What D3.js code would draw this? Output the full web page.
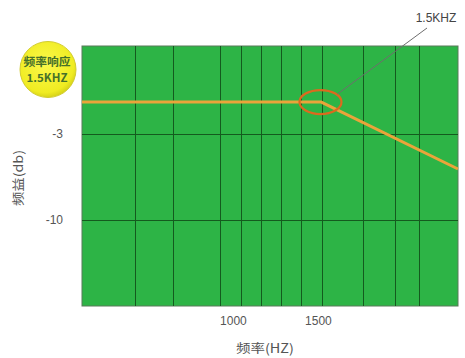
<!DOCTYPE html>
<html><head><meta charset="utf-8">
<script src="https://cdn.jsdelivr.net/npm/d3@7"></script>
<style>
html,body{margin:0;padding:0;background:#fff;}
svg{display:block;font-family:"Liberation Sans",Arial,sans-serif;}
</style></head>
<body><svg id="chart" width="465" height="358"></svg>
<script>
// ---- data ----
const freqDomain = [112, 2324];
const dbDomain = [-17, 4.16];
const xTickValues = [1000, 1500];
const xTickLabels = ["1000", "1500"];
const yTickValues = [-3, -10];
const yTickLabels = ["-3", "-10"];
const gridFreqs = [424, 647, 924, 1047, 1165, 1282, 1400, 1524, 1765, 1953, 2094];
const curveFreq = [112, 1520, 2324];
const curveDb = [-0.4, -0.4, -5.85];
const markerFreq = 1515;
const markerDb = -0.4;
const badgeLines = ["频率响应", "1.5KHZ"];
const markerLabel = "1.5KHZ";
const xTitle = "频率(HZ)";
const yTitle = "频益(db)";

// ---- layout ----
const svg = d3.select("#chart");
const L = 82, R = 458, T = 46, B = 306;
const x = d3.scaleLinear().domain(freqDomain).range([L, R]);
const y = d3.scaleLinear().domain(dbDomain).range([B, T]);

// plot background
svg.append("rect").attr("x", L).attr("y", T).attr("width", R - L).attr("height", B - T)
  .attr("fill", "#2db446").attr("stroke", "#5a7a5a").attr("stroke-width", 1);

// vertical grid
svg.append("g").selectAll("line").data(gridFreqs).join("line")
  .attr("x1", d => Math.round(x(d)) + 0.5).attr("x2", d => Math.round(x(d)) + 0.5)
  .attr("y1", T).attr("y2", B)
  .attr("stroke", "#145a1e").attr("stroke-width", 1);

// horizontal grid
svg.append("g").selectAll("line").data(yTickValues).join("line")
  .attr("x1", L).attr("x2", R)
  .attr("y1", d => Math.round(y(d)) + 0.5).attr("y2", d => Math.round(y(d)) + 0.5)
  .attr("stroke", "#145a1e").attr("stroke-width", 1);

// axes (labels only)
const xAxis = d3.axisBottom(x).tickValues(xTickValues)
  .tickFormat((d, i) => xTickLabels[i]).tickSize(0).tickPadding(10);
const gx = svg.append("g").attr("transform", `translate(0,${B})`).call(xAxis);
gx.select(".domain").remove();
gx.selectAll("text").attr("font-size", 12).attr("fill", "#555")
  .attr("font-family", "Liberation Sans, Arial, sans-serif");

const yAxis = d3.axisLeft(y).tickValues(yTickValues)
  .tickFormat((d, i) => yTickLabels[i]).tickSize(0).tickPadding(19);
const gy = svg.append("g").attr("transform", `translate(${L},0)`).call(yAxis);
gy.select(".domain").remove();
gy.selectAll("text").attr("font-size", 12).attr("fill", "#555")
  .attr("font-family", "Liberation Sans, Arial, sans-serif");

// response curve
const pts = curveFreq.map((f, i) => [f, curveDb[i]]);
svg.append("path").datum(pts)
  .attr("d", d3.line().x(d => x(d[0])).y(d => y(d[1])))
  .attr("fill", "none").attr("stroke", "#eaa43a").attr("stroke-width", 3)
  .attr("stroke-linejoin", "round");

// marker ellipse
const mx = x(markerFreq), my = y(markerDb);
svg.append("ellipse").attr("cx", mx).attr("cy", my).attr("rx", 21).attr("ry", 12)
  .attr("fill", "none").attr("stroke", "#dc6a1e").attr("stroke-width", 2.2);

// leader line + label
svg.append("line").attr("x1", mx + 17).attr("y1", my - 8).attr("x2", 427).attr("y2", 28)
  .attr("stroke", "#6e6e6e").attr("stroke-width", 1);
svg.append("text").attr("x", 436).attr("y", 22).attr("text-anchor", "middle")
  .attr("font-size", 12).attr("fill", "#444").text(markerLabel);

// yellow badge
const defs = svg.append("defs");
const rg = defs.append("radialGradient").attr("id", "yg").attr("cx", "45%").attr("cy", "40%").attr("r", "60%");
rg.append("stop").attr("offset", "0%").attr("stop-color", "#fbf84a");
rg.append("stop").attr("offset", "85%").attr("stop-color", "#f0ec22");
rg.append("stop").attr("offset", "100%").attr("stop-color", "#d8d418");
svg.append("circle").attr("cx", 48).attr("cy", 69.5).attr("r", 28)
  .attr("fill", "url(#yg)").attr("stroke", "#d2cc30").attr("stroke-width", 1);
svg.append("g").selectAll("text").data(badgeLines).join("text")
  .attr("x", 47).attr("y", (d, i) => 66 + i * 16).attr("text-anchor", "middle")
  .attr("font-size", 11).attr("fill", "#46702a").attr("font-weight", "bold")
  .attr("font-family", "Noto Sans CJK SC, sans-serif")
  .attr("textLength", (d, i) => i === 0 ? 47 : 41).attr("lengthAdjust", "spacingAndGlyphs")
  .text(d => d);

// axis titles
svg.append("text").attr("x", 265).attr("y", 353).attr("text-anchor", "middle")
  .attr("font-size", 12.5).attr("fill", "#555").attr("font-family", "Noto Sans CJK SC, sans-serif")
  .attr("textLength", 58).attr("lengthAdjust", "spacingAndGlyphs")
  .text(xTitle);
svg.append("text").attr("transform", "translate(23,178) rotate(-90)").attr("text-anchor", "middle")
  .attr("font-size", 12.5).attr("fill", "#555").attr("font-family", "Noto Sans CJK SC, sans-serif")
  .attr("textLength", 56).attr("lengthAdjust", "spacingAndGlyphs")
  .text(yTitle);
</script></body></html>
